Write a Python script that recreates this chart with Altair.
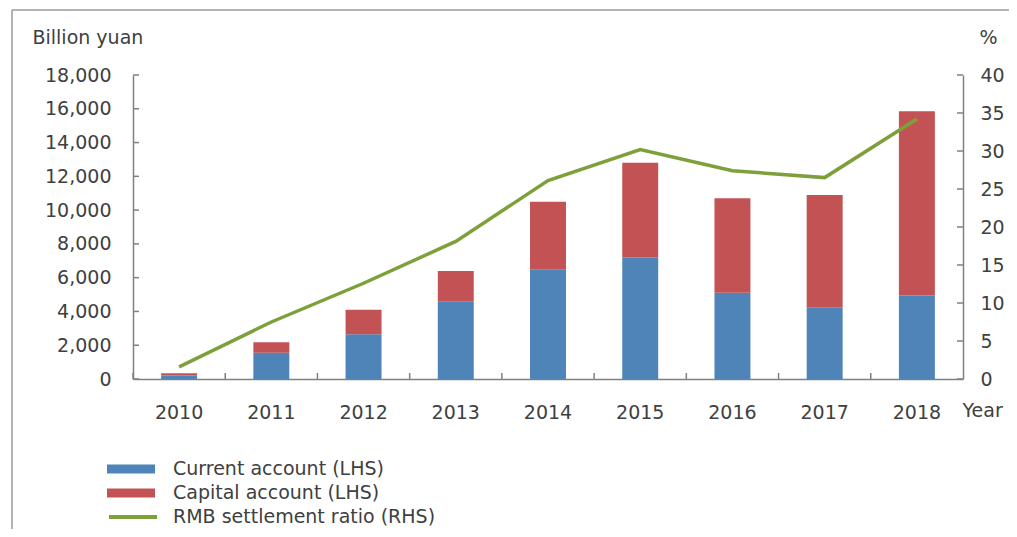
import altair as alt
import pandas as pd

years = ["2010", "2011", "2012", "2013", "2014", "2015", "2016", "2017", "2018"]
current_account = [200, 1550, 2650, 4600, 6500, 7200, 5100, 4250, 4950]
capital_account = [140, 620, 1450, 1800, 4000, 5600, 5600, 6650, 10900]
settlement_ratio = [1.6, 7.5, 12.6, 18.1, 26.1, 30.2, 27.4, 26.5, 34.2]
left_ticks = list(range(0, 18001, 2000))
right_ticks = list(range(0, 41, 5))

S_CUR = "Current account (LHS)"
S_CAP = "Capital account (LHS)"
S_RMB = "RMB settlement ratio (RHS)"

BLUE = "#4E84B8"
RED = "#C25254"
GREEN = "#7EA03A"
AXIS = "#808080"
TEXT = "#404040"
FONT = "DejaVu Sans"
FS = 19

W, H = 830, 304

bars_df = pd.DataFrame({
    "year": years, "current": current_account, "capital": capital_account,
    "s_cur": S_CUR, "s_cap": S_CAP,
})
line_df = pd.DataFrame({"year": years, "ratio": settlement_ratio, "label": S_RMB})
lt_df = pd.DataFrame({"v": left_ticks})
rt_df = pd.DataFrame({"v": right_ticks})
yr_df = pd.DataFrame({"year": years})

xscale = alt.Scale(domain=years, paddingInner=0, paddingOuter=0)
x_axis = alt.Axis(
    title="Year", labelAngle=0, ticks=False, tickSize=0, labelPadding=24,
    domainColor=AXIS, domainWidth=1.5, labelFont=FONT, labelFontSize=FS,
    labelColor=TEXT, titleFont=FONT, titleFontSize=FS, titleColor=TEXT,
    titleFontWeight="normal", titleAngle=0, titleAlign="left",
    titleBaseline="middle", titleX=829, titleY=31, grid=False,
)
left_axis = alt.Axis(
    title="Billion yuan", values=left_ticks, format=",.0f", ticks=False,
    tickSize=0, labelPadding=22, domainColor=AXIS, domainWidth=1.5,
    grid=False, labelFont=FONT, labelFontSize=FS, labelColor=TEXT,
    titleFont=FONT, titleFontSize=FS, titleColor=TEXT,
    titleFontWeight="normal", titleAngle=0, titleAlign="left",
    titleBaseline="middle", titleX=-101, titleY=-38,
)
right_axis = alt.Axis(
    orient="right", title="%", values=right_ticks, format=".0f", ticks=False,
    tickSize=0, labelPadding=17, domainColor=AXIS, domainWidth=1.5,
    grid=False, labelFont=FONT, labelFontSize=FS, labelColor=TEXT,
    titleFont=FONT, titleFontSize=FS, titleColor=TEXT,
    titleFontWeight="normal", titleAngle=0, titleAlign="center",
    titleBaseline="middle", titleX=25, titleY=-38,
)

lscale = alt.Scale(domain=[0, 18000], nice=False, zero=True)
rscale = alt.Scale(domain=[0, 40], nice=False, zero=True)

BAR_SYM = "M-1,-0.19H1V0.19H-1Z"


def leg(y, sym, sw=0, off=18):
    return alt.Legend(
        title=None, orient="none", legendX=-26, legendY=y,
        symbolType=sym, symbolSize=2304, symbolStrokeWidth=sw,
        labelFont=FONT, labelFontSize=FS, labelColor=TEXT,
        labelOffset=off, labelLimit=0, padding=0,
    )


base = alt.Chart(bars_df)
cur_bars = base.mark_bar(width=alt.RelativeBandSize(0.39)).encode(
    x=alt.X("year:O", scale=xscale, axis=x_axis),
    y=alt.Y("current:Q", scale=lscale, axis=left_axis),
    fill=alt.Fill("s_cur:N", scale=alt.Scale(domain=[S_CUR], range=[BLUE]),
                  legend=leg(370, BAR_SYM)),
)
cap_bars = base.transform_calculate(
    top="datum.current + datum.capital"
).mark_bar(width=alt.RelativeBandSize(0.39)).encode(
    x=alt.X("year:O", scale=xscale, axis=x_axis),
    y=alt.Y("top:Q", scale=lscale, axis=left_axis),
    y2="current:Q",
    color=alt.Color("s_cap:N", scale=alt.Scale(domain=[S_CAP], range=[RED]),
                    legend=leg(394, BAR_SYM)),
)

lticks = alt.Chart(lt_df).mark_rule(color=AXIS, strokeWidth=1.5).encode(
    y=alt.Y("v:Q", scale=lscale, axis=left_axis),
    x=alt.value(0), x2=alt.value(6),
)

xticks = alt.Chart(yr_df).mark_rule(color=AXIS, strokeWidth=1.5).encode(
    x=alt.X("year:O", scale=xscale, bandPosition=0, axis=x_axis),
    y=alt.value(H), y2=alt.value(H - 6),
)

line = alt.Chart(line_df).mark_line(strokeWidth=3.5).encode(
    x=alt.X("year:O", scale=xscale, axis=x_axis),
    y=alt.Y("ratio:Q", scale=rscale, axis=right_axis),
    stroke=alt.Stroke("label:N", scale=alt.Scale(domain=[S_RMB], range=[GREEN]),
                      legend=leg(416, "stroke", 4, 14)),
)

rticks = alt.Chart(rt_df).mark_rule(color=AXIS, strokeWidth=1.5).encode(
    y=alt.Y("v:Q", scale=rscale, axis=right_axis),
    x=alt.value(W), x2=alt.value(W - 6),
)

frame_top = alt.Chart(alt.Data(values=[{}])).mark_rule(color="#9a9a9a", strokeWidth=1.5).encode(
    x=alt.value(-121), x2=alt.value(876), y=alt.value(-65)
)
frame_left = alt.Chart(alt.Data(values=[{}])).mark_rule(color="#9a9a9a", strokeWidth=1.5).encode(
    x=alt.value(-121), y=alt.value(-65), y2=alt.value(454)
)

left = alt.layer(cur_bars, cap_bars, lticks, xticks)
right = alt.layer(line, rticks)

chart = alt.layer(left, right, frame_top, frame_left).resolve_scale(
    y="independent"
).properties(
    width=W, height=H,
    autosize=alt.AutoSizeParams(type="none"),
    padding={"left": 125, "top": 67, "right": 46, "bottom": 150},
).configure_view(stroke=None)

chart.save("out.html", embed_options={"renderer": "svg", "actions": False})
